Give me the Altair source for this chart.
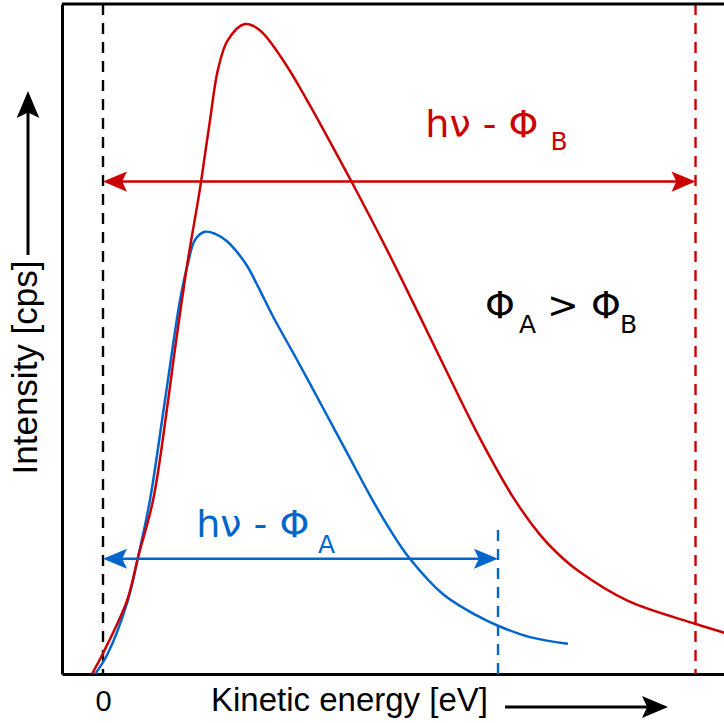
import altair as alt
import pandas as pd

RED = "#cc0000"
BLUE = "#0066cc"
LABEL_FONT = "Liberation Sans"
SYMBOL_FONT = "DejaVu Sans"

# Photoelectron spectrum of metal B (smaller work function): kinetic energy [eV] vs. intensity
energy_b = [-0.28, 0.00, 0.61, 0.89, 1.27, 1.65, 1.82, 2.15, 2.41, 2.48, 2.71, 2.91,
            3.16, 3.59, 3.97, 4.56, 5.16, 5.75, 6.30, 7.19, 7.82, 8.58, 9.54, 10.38,
            11.06, 11.49, 12.03, 13.29, 14.99, 15.82]
intensity_b = [0.0, 3.1, 11.0, 17.5, 26.0, 40.9, 48.4, 61.8, 70.8, 73.4, 82.7, 90.2,
               94.6, 97.0, 96.1, 91.6, 85.7, 79.4, 73.4, 63.3, 55.8, 46.6, 35.2, 26.4,
               20.8, 18.1, 15.4, 10.9, 7.5, 6.0]

# Photoelectron spectrum of metal A (larger work function)
energy_a = [-0.20, 0.10, 0.63, 0.89, 1.19, 1.57, 1.95, 2.15, 2.33, 2.58, 2.84, 3.14,
            3.39, 3.65, 3.97, 4.30, 4.91, 5.57, 6.18, 6.81, 7.27, 7.77, 8.61, 9.47,
            10.00, 10.81, 11.77]
intensity_a = [0.0, 2.8, 11.0, 17.5, 26.0, 40.9, 55.8, 61.3, 64.8, 66.0, 65.7, 64.6,
               63.0, 60.9, 57.3, 53.4, 46.9, 39.7, 33.0, 26.1, 21.5, 17.2, 11.9, 8.7,
               7.2, 5.5, 4.5]

# Maximum kinetic energies h·nu - Phi for the two metals
cutoff_a = 10.0
cutoff_b = 15.0

# Heights at which the energy-span arrows are drawn, and the top of the A cutoff marker
span_level_a = 17.2
span_level_b = 73.5
cutoff_a_top = 21.5

x_scale = alt.Scale(domain=[-1.038, 15.721], nice=False, zero=False)
y_scale = alt.Scale(domain=[0, 100], nice=False, zero=False)

x_axis = alt.Axis(
    values=[0], format="d", ticks=False, tickSize=0, grid=False,
    domainColor="black", domainWidth=3,
    labelFont=LABEL_FONT, labelFontSize=29, labelColor="black",
    labelBaseline="alphabetic", labelPadding=36, labelFlush=False,
    title="Kinetic energy [eV]", titleFont=LABEL_FONT, titleFontSize=33,
    titleFontWeight="normal", titleColor="black", titleX=287, titleY=36,
    titleBaseline="alphabetic", titleAlign="center",
)
y_axis = alt.Axis(
    labels=False, ticks=False, tickSize=0, grid=False,
    domainColor="black", domainWidth=3,
    title="Intensity [cps]", titleFont=LABEL_FONT, titleFontSize=35,
    titleFontWeight="normal", titleColor="black", titleAngle=270,
    titleX=-26, titleY=363, titleBaseline="alphabetic", titleAlign="center",
)


def xq(field):
    return alt.X(field, type="quantitative", scale=x_scale, axis=x_axis)


def yq(field):
    return alt.Y(field, type="quantitative", scale=y_scale, axis=y_axis)


spec_a = pd.DataFrame({"energy": energy_a, "intensity": intensity_a})
spec_b = pd.DataFrame({"energy": energy_b, "intensity": intensity_b})

curve_a = alt.Chart(spec_a).mark_line(
    interpolate="catmull-rom", color=BLUE, strokeWidth=2.5, clip=True
).encode(x=xq("energy"), y=yq("intensity"))

curve_b = alt.Chart(spec_b).mark_line(
    interpolate="catmull-rom", color=RED, strokeWidth=2.5, clip=True
).encode(x=xq("energy"), y=yq("intensity"))

# Top edge of the frame
top_edge = alt.Chart().mark_rule(color="black", strokeWidth=3).encode(
    y=alt.Y(datum=100, type="quantitative", scale=y_scale, axis=y_axis)
)

# Dashed markers: zero kinetic energy and the B cutoff run the full height
full_markers = pd.DataFrame({"energy": [0.0, cutoff_b], "color": ["black", RED]})
full_dashes = alt.Chart(full_markers).mark_rule(strokeDash=[11, 8], strokeWidth=2.4).encode(
    x=xq("energy"),
    color=alt.Color("color:N", scale=None),
)

cutoff_a_marker = pd.DataFrame({"energy": [cutoff_a], "top": [cutoff_a_top], "bottom": [0.0]})
dash_a = alt.Chart(cutoff_a_marker).mark_rule(
    strokeDash=[11, 8], strokeWidth=2.4, color=BLUE
).encode(x=xq("energy"), y=yq("top"), y2="bottom:Q")

# Double-headed arrows spanning 0 .. h·nu - Phi
spans = pd.DataFrame({
    "start": [0.0, 0.0],
    "end": [cutoff_a, cutoff_b],
    "level": [span_level_a, span_level_b],
    "color": [BLUE, RED],
})
shafts = alt.Chart(spans).mark_rule(strokeWidth=2.6, xOffset=17, x2Offset=-17).encode(
    x=xq("start"), x2="end:Q", y=yq("level"),
    color=alt.Color("color:N", scale=None),
)

ARROW = "M0,0L-1,-0.42L-0.8,0L-1,0.42Z"
heads = pd.DataFrame({
    "energy": [0.0, cutoff_a, 0.0, cutoff_b],
    "level": [span_level_a, span_level_a, span_level_b, span_level_b],
    "angle": [180, 0, 180, 0],
    "color": [BLUE, BLUE, RED, RED],
})
arrowheads = alt.Chart(heads).mark_point(
    shape=ARROW, filled=True, opacity=1, size=2304, strokeWidth=0
).encode(
    x=xq("energy"), y=yq("level"),
    angle=alt.Angle("angle:Q", scale=None),
    color=alt.Color("color:N", scale=None),
)

# Annotations: main text and subscripts
main_text = pd.DataFrame({
    "text": ["hν - Φ", "hν - Φ", "Φ", "> Φ"],
    "energy": [8.16, 2.36, 9.67, 11.24],
    "level": [80.15, 20.45, 53.13, 53.13],
    "color": [RED, BLUE, "black", "black"],
})
sub_text = pd.DataFrame({
    "text": ["B", "A", "A", "B"],
    "energy": [11.33, 5.44, 10.53, 13.09],
    "level": [78.2, 18.1, 50.9, 50.9],
    "color": [RED, BLUE, "black", "black"],
})
main_labels = alt.Chart(main_text).mark_text(
    font=SYMBOL_FONT, fontSize=38, align="left", baseline="alphabetic"
).encode(x=xq("energy"), y=yq("level"), text="text:N", color=alt.Color("color:N", scale=None))
sub_labels = alt.Chart(sub_text).mark_text(
    font=SYMBOL_FONT, fontSize=25, align="left", baseline="alphabetic"
).encode(x=xq("energy"), y=yq("level"), text="text:N", color=alt.Color("color:N", scale=None))

# Direction arrows next to the axis titles
y_title_shaft = alt.Chart().mark_rule(color="black", strokeWidth=3).encode(
    x=alt.value(-34), y=alt.value(251), y2=alt.value(106)
)
y_title_head = alt.Chart().mark_point(
    shape=ARROW, filled=True, opacity=1, size=2916, strokeWidth=0, color="black", angle=270
).encode(x=alt.value(-34), y=alt.value(87))
x_title_shaft = alt.Chart().mark_rule(color="black", strokeWidth=3).encode(
    x=alt.value(443), x2=alt.value(586), y=alt.value(703)
)
x_title_head = alt.Chart().mark_point(
    shape=ARROW, filled=True, opacity=1, size=2704, strokeWidth=0, color="black"
).encode(x=alt.value(606), y=alt.value(703))

chart = alt.layer(
    full_dashes, dash_a, top_edge, curve_a, curve_b, shafts, arrowheads,
    main_labels, sub_labels, y_title_shaft, y_title_head, x_title_shaft, x_title_head,
).properties(
    width=662, height=670,
    autosize=alt.AutoSizeParams(type="none"),
    padding={"left": 62, "top": 4, "right": 0, "bottom": 49},
    background="white",
).configure_view(stroke=None)

chart.save("out.html", embed_options={"renderer": "svg", "actions": False})
